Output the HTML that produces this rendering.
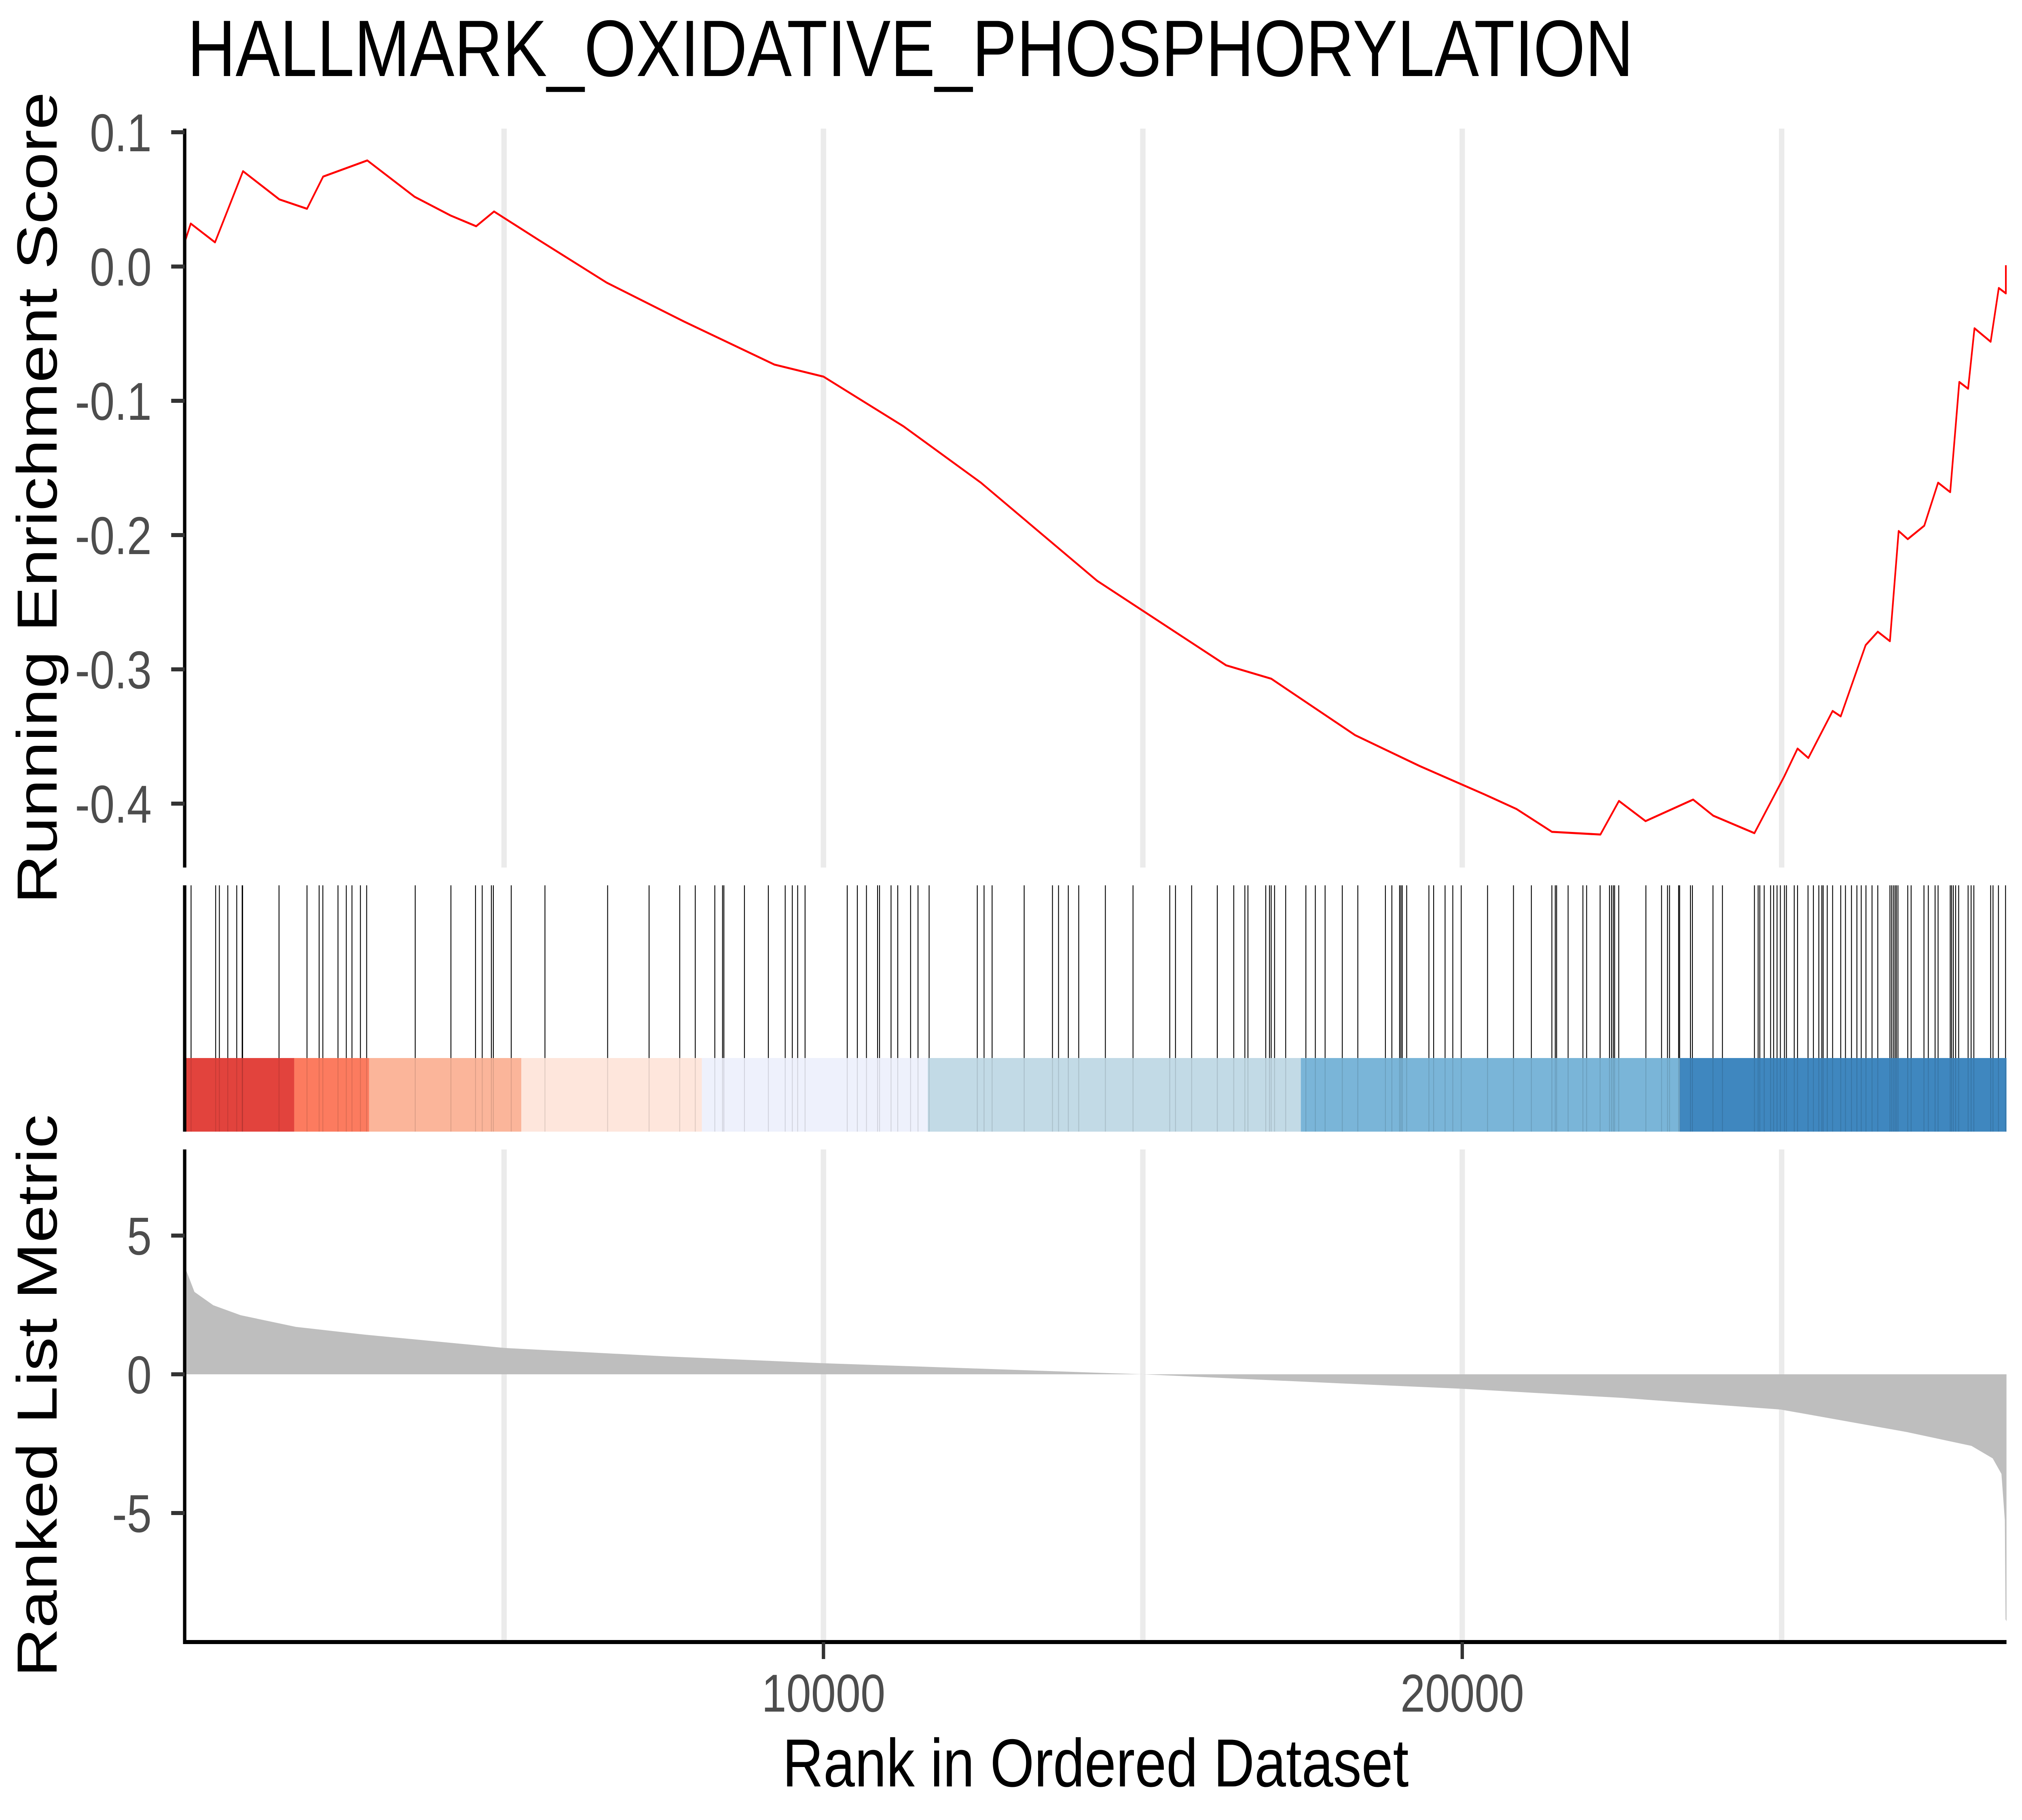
<!DOCTYPE html>
<html><head><meta charset="utf-8">
<style>
html,body{margin:0;padding:0;background:#fff;width:100%;height:100%;overflow:hidden;}
svg{display:block;width:100vw;height:100vh;font-family:"Liberation Sans",Arial,sans-serif;}
</style></head>
<body>
<svg id="chart" viewBox="0 0 6000 4500" preserveAspectRatio="none" xmlns="http://www.w3.org/2000/svg">
<rect width="6000" height="4500" fill="#fff"/>
<text x="556" y="188" font-size="198" fill="#000">HALLMARK_OXIDATIVE_PHOSPHORYLATION</text>
<g id="grid"></g>
<g id="metric"></g>
<g id="colorbar"></g>
<g id="hits"></g>
<g id="es"></g>
<g id="axes"></g>
<text transform="translate(168,1231) rotate(-90)" text-anchor="middle" font-size="168" fill="#000">Running Enrichment Score</text>
<text transform="translate(168,3451) rotate(-90)" text-anchor="middle" font-size="168" fill="#000">Ranked List Metric</text>
<text x="3251" y="4417" text-anchor="middle" font-size="168" fill="#000">Rank in Ordered Dataset</text>
</svg>
<script>
// ---- data ----
const esRank = [0,95,475,913,1482,1915,2168,2859,3598,4162,4563,4843,5534,6606,7818,9232,10000,11253,12465,14283,16303,17010,18323,19333,20343,20849,21403,22163,22453,22870,23614,23930,24574,25038,25249,25418,25798,25925,26315,26505,26695,26832,26974,27233,27449,27639,27781,27919,28019,28272,28399,28510,28510];
const esValue = [0.018,0.032,0.018,0.071,0.050,0.043,0.067,0.079,0.052,0.038,0.030,0.041,0.020,-0.012,-0.041,-0.073,-0.082,-0.119,-0.161,-0.234,-0.297,-0.307,-0.349,-0.372,-0.393,-0.404,-0.421,-0.423,-0.398,-0.413,-0.397,-0.409,-0.422,-0.380,-0.359,-0.366,-0.331,-0.335,-0.282,-0.272,-0.279,-0.197,-0.203,-0.193,-0.161,-0.168,-0.086,-0.091,-0.046,-0.056,-0.016,-0.020,0.001];
const hitRanks = [10,100,485,543,675,815,900,907,1477,1915,2105,2163,2400,2530,2619,2751,2849,3609,4168,4553,4658,4801,4832,5112,5640,6621,7270,
7750,7993,8299,8420,8441,8763,9137,9401,9512,9596,9712,10372,10530,10673,10847,10878,11058,11163,11364,11480,11654,12408,12514,12640,13142,13585,13680,13833,13996,14413,
14846,15421,15511,15764,16165,16423,16597,16645,16924,16982,17009,17062,17236,17552,17700,17853,18122,18365,18797,18898,19019,19040,19061,19130,19478,19552,19731,19852,19984,20396,20802,21082,21403,21456,21477,21657,21889,21947,
22158,22305,22337,22364,22385,22450,22875,23120,23213,23245,23387,23403,23572,23603,23925,24073,24574,24632,24658,24727,24827,24875,24928,24980,25044,25075,25197,25249,25413,25497,25582,25629,25650,25714,25798,25925,25999,26093,26178,26246,26320,26415,26505,26695,26721,26748,26774,26795,26821,26974,27027,27228,27296,27402,27449,27639,27660,27687,27724,27771,27919,27966,28009,28272,28309,28394,28505];
const metricRank = [0,32,153,448,876,1741,2817,5000,7500,10000,12500,15000,18212,20000,22500,24985,26958,27972,28304,28441,28494,28505,28520];
const metricValue = [3.8,3.7,2.97,2.49,2.13,1.71,1.43,0.95,0.65,0.4,0.2,0,-0.34,-0.52,-0.85,-1.27,-2.08,-2.58,-3.03,-3.59,-5.26,-8.83,-8.9];
const bandBreaks = [0,1715,2886,5270,8097,11633,17473,23406,28520];
const bandColors = ["#E2433D","#FC7B5F","#FBB59A","#FEE6DC","#EEF1FC","#C2DAE6","#7AB5D8","#3F87BF"];
const xTicks = [10000,20000];
const xGrid = [5000,10000,15000,20000,25000];
const esTicks = [0.1,0.0,-0.1,-0.2,-0.3,-0.4];
const esTickLabels = ["0.1","0.0","-0.1","-0.2","-0.3","-0.4"];
const metricTicks = [5,0,-5];
const metricTickLabels = ["5","0","-5"];

// ---- scales ----
const X0=548, X1=5954, NMAX=28520;
const xs = r => X0 + (r/NMAX)*(X1-X0);
const P1T=318, P1B=2145;
const yEs = v => 659 - v*3320;
const P2T=2189, P2M=2616, P2B=2798;
const P3T=2842, P3B=4060;
const yM = v => 3398 - v*68.6;
const NS="http://www.w3.org/2000/svg";
function mk(tag, parent, attrs){const e=document.createElementNS(NS,tag);for(const k in attrs)e.setAttribute(k,attrs[k]);document.getElementById(parent).appendChild(e);return e;}

// grid
xGrid.forEach(g=>{
  let l=mk('line','grid',{x1:xs(g),x2:xs(g),y1:P1T,y2:P1B,stroke:'#EBEBEB','stroke-width':16});
  
  
  let l2=mk('line','grid',{x1:xs(g),x2:xs(g),y1:P3T,y2:P3B,stroke:'#EBEBEB','stroke-width':16});
  
  
});

// metric area
let d='M'+xs(metricRank[0])+','+yM(0);
metricRank.forEach((r,i)=>{d+=' L'+xs(r).toFixed(1)+','+yM(metricValue[i]).toFixed(1);});
d+=' L'+xs(metricRank[metricRank.length-1])+','+yM(0)+' Z';
let area=mk('path','metric',{d:d,fill:'#BEBEBE'});



// colour bar
bandColors.forEach((c,i)=>{
  let r=mk('rect','colorbar',{x:xs(bandBreaks[i]),y:P2M,width:xs(bandBreaks[i+1])-xs(bandBreaks[i]),height:P2B-P2M,fill:c});
  
  
});

// hits
hitRanks.forEach(h=>{
  let l=mk('line','hits',{x1:xs(h),x2:xs(h),y1:P2T,y2:P2M,stroke:'#000','stroke-width':2.6});
  
  
  let l2=mk('line','hits',{x1:xs(h),x2:xs(h),y1:P2M,y2:P2B,stroke:'#000','stroke-width':2.6,'stroke-opacity':0.12});
  
  
});

// ES line
let pts=esRank.map((r,i)=>xs(r).toFixed(1)+','+yEs(esValue[i]).toFixed(1)).join(' ');
let es=mk('polyline','es',{points:pts,fill:'none',stroke:'#FF0000','stroke-width':5,'stroke-linejoin':'round'});



// axes
[[P1T,P1B],[P2T,P2B],[P3T,P3B+5]].forEach(p=>{
  let a=mk('line','axes',{x1:X0,x2:X0,y1:p[0],y2:p[1],stroke:'#000','stroke-width':10});
  
  
});
let xa=mk('line','axes',{x1:X0-5,x2:X1,y1:P3B,y2:P3B,stroke:'#000','stroke-width':10});


esTicks.forEach((t,i)=>{
  let tk=mk('line','axes',{x1:X0-40,x2:X0,y1:yEs(t),y2:yEs(t),stroke:'#333','stroke-width':10});
  
  
  let tx=mk('text','axes',{x:450,y:yEs(t)+47,'text-anchor':'end','font-size':132,fill:'#4D4D4D'});
  tx.textContent=esTickLabels[i];
  
  
});
metricTicks.forEach((t,i)=>{
  let tk=mk('line','axes',{x1:X0-40,x2:X0,y1:yM(t),y2:yM(t),stroke:'#333','stroke-width':10});
  
  
  let tx=mk('text','axes',{x:450,y:yM(t)+47,'text-anchor':'end','font-size':132,fill:'#4D4D4D'});
  tx.textContent=metricTickLabels[i];
  
  
});
xTicks.forEach(t=>{
  let tk=mk('line','axes',{x1:xs(t),x2:xs(t),y1:P3B,y2:P3B+42,stroke:'#333','stroke-width':10});
  
  
  let tx=mk('text','axes',{x:xs(t),y:4232,'text-anchor':'middle','font-size':132,fill:'#4D4D4D'});
  tx.textContent=String(t);
  
  
});
</script>
</body></html>
